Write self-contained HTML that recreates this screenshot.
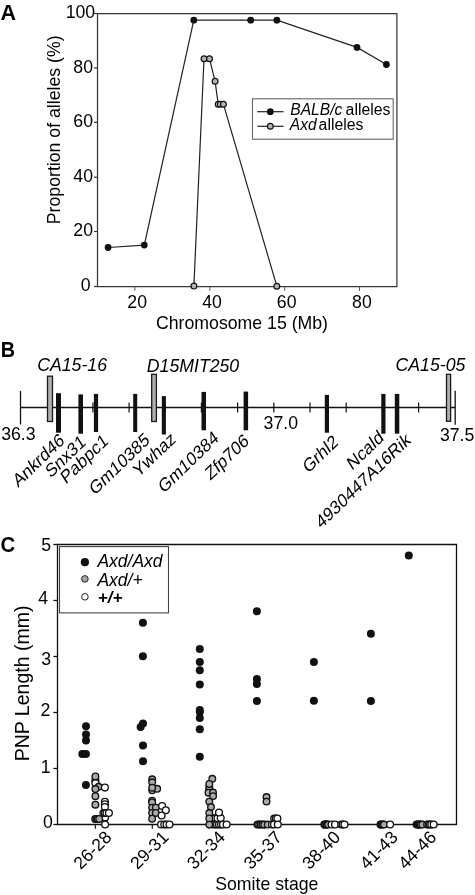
<!DOCTYPE html>
<html><head><meta charset="utf-8"><title>Figure</title>
<style>html,body{margin:0;padding:0;background:#fff;width:475px;height:895px;overflow:hidden}
svg{display:block} text{font-family:"Liberation Sans", Arial, Helvetica, sans-serif}</style></head>
<body><svg width="475" height="895" viewBox="0 0 475 895">
<rect width="475" height="895" fill="#fff"/>
<text x="0" y="0" font-size="21.5" font-weight="bold" transform="translate(0.6 19.9) scale(1.0 1)">A</text>
<path d="M97.5 13.5 H396.9 V286.5 H97.5 Z" fill="none" stroke="#383838" stroke-width="1.25"/>
<line x1="94" y1="13.5" x2="97.5" y2="13.5" stroke="#383838" stroke-width="1.2"/>
<line x1="94" y1="67.9" x2="97.5" y2="67.9" stroke="#383838" stroke-width="1.2"/>
<line x1="94" y1="122.3" x2="97.5" y2="122.3" stroke="#383838" stroke-width="1.2"/>
<line x1="94" y1="177.2" x2="97.5" y2="177.2" stroke="#383838" stroke-width="1.2"/>
<line x1="94" y1="231.5" x2="97.5" y2="231.5" stroke="#383838" stroke-width="1.2"/>
<line x1="94" y1="286.5" x2="97.5" y2="286.5" stroke="#383838" stroke-width="1.2"/>
<text x="95.2" y="18.1" font-size="17.7" text-anchor="end" fill="#000">100</text>
<text x="93" y="72.7" font-size="17.7" text-anchor="end" fill="#000">80</text>
<text x="93" y="127.1" font-size="17.7" text-anchor="end" fill="#000">60</text>
<text x="93" y="181.7" font-size="17.7" text-anchor="end" fill="#000">40</text>
<text x="93" y="235.9" font-size="17.7" text-anchor="end" fill="#000">20</text>
<text x="90.6" y="290.7" font-size="17.7" text-anchor="end" fill="#000">0</text>
<line x1="134.9" y1="286.5" x2="134.9" y2="290.8" stroke="#555" stroke-width="1"/>
<line x1="209.9" y1="286.5" x2="209.9" y2="290.8" stroke="#555" stroke-width="1"/>
<line x1="284.7" y1="286.5" x2="284.7" y2="290.8" stroke="#555" stroke-width="1"/>
<line x1="359.5" y1="286.5" x2="359.5" y2="290.8" stroke="#555" stroke-width="1"/>
<text x="137.2" y="308.4" font-size="17.7" text-anchor="middle" fill="#000">20</text>
<text x="212" y="308.4" font-size="17.7" text-anchor="middle" fill="#000">40</text>
<text x="286.7" y="308.4" font-size="17.7" text-anchor="middle" fill="#000">60</text>
<text x="361.9" y="308.4" font-size="17.7" text-anchor="middle" fill="#000">80</text>
<text x="156" y="328.5" font-size="17.7" fill="#000">Chromosome 15 (Mb)</text>
<text x="60" y="224.2" font-size="17.7" transform="rotate(-90 60 224.2)" fill="#000">Proportion of alleles (%)</text>
<polyline points="108.1,247.5 144.3,245.1 193.8,20.2 250.7,20.2 276.9,20.2 357,47.4 386.4,64.5" fill="none" stroke="#222" stroke-width="1.2"/>
<polyline points="193.9,286.1 204,58.7 209.5,58.7 215.1,81.3 218.2,104.2 220.3,104.2 223.4,104.2 276.8,286.2" fill="none" stroke="#222" stroke-width="1.2"/>
<circle cx="108.1" cy="247.5" r="3.4" fill="#111"/>
<circle cx="144.3" cy="245.1" r="3.4" fill="#111"/>
<circle cx="193.8" cy="20.2" r="3.4" fill="#111"/>
<circle cx="250.7" cy="20.2" r="3.4" fill="#111"/>
<circle cx="276.9" cy="20.2" r="3.4" fill="#111"/>
<circle cx="357" cy="47.4" r="3.4" fill="#111"/>
<circle cx="386.4" cy="64.5" r="3.4" fill="#111"/>
<circle cx="193.9" cy="286.1" r="2.9" fill="#b4b4b4" stroke="#111" stroke-width="1.2"/>
<circle cx="204" cy="58.7" r="2.9" fill="#b4b4b4" stroke="#111" stroke-width="1.2"/>
<circle cx="209.5" cy="58.7" r="2.9" fill="#b4b4b4" stroke="#111" stroke-width="1.2"/>
<circle cx="215.1" cy="81.3" r="2.9" fill="#b4b4b4" stroke="#111" stroke-width="1.2"/>
<circle cx="218.2" cy="104.2" r="2.9" fill="#b4b4b4" stroke="#111" stroke-width="1.2"/>
<circle cx="220.3" cy="104.2" r="2.9" fill="#b4b4b4" stroke="#111" stroke-width="1.2"/>
<circle cx="223.4" cy="104.2" r="2.9" fill="#b4b4b4" stroke="#111" stroke-width="1.2"/>
<circle cx="276.8" cy="286.2" r="2.9" fill="#b4b4b4" stroke="#111" stroke-width="1.2"/>
<rect x="252.5" y="98.8" width="140.7" height="40.39999999999999" fill="none" stroke="#666" stroke-width="1.1"/>
<line x1="257.3" y1="111.7" x2="283.5" y2="111.7" stroke="#222" stroke-width="1.2"/>
<circle cx="270.3" cy="111.7" r="3.4" fill="#111"/>
<line x1="257.3" y1="126.3" x2="283.5" y2="126.3" stroke="#222" stroke-width="1.2"/>
<circle cx="270.3" cy="126.3" r="2.9" fill="#b4b4b4" stroke="#111" stroke-width="1.2"/>
<text x="290.3" y="115.3" font-size="15.6" font-style="italic" fill="#000">BALB/c</text>
<text x="345.6" y="115.3" font-size="15.8" fill="#000">alleles</text>
<text x="289.8" y="129.8" font-size="15.6" font-style="italic" fill="#000">Axd</text>
<text x="318.6" y="129.8" font-size="15.8" fill="#000">alleles</text>
<text x="0" y="0" font-size="21.5" font-weight="bold" transform="translate(0.8 356.5) scale(0.92 1)">B</text>
<line x1="20.5" y1="407.5" x2="455.2" y2="407.5" stroke="#111" stroke-width="1.4"/>
<line x1="20.5" y1="391" x2="20.5" y2="424.5" stroke="#111" stroke-width="1.3"/>
<line x1="455.2" y1="390.8" x2="455.2" y2="424.7" stroke="#111" stroke-width="1.3"/>
<line x1="56.7" y1="402.6" x2="56.7" y2="412.6" stroke="#111" stroke-width="1.2"/>
<line x1="92.9" y1="402.6" x2="92.9" y2="412.6" stroke="#111" stroke-width="1.2"/>
<line x1="129.1" y1="402.6" x2="129.1" y2="412.6" stroke="#111" stroke-width="1.2"/>
<line x1="165.3" y1="402.6" x2="165.3" y2="412.6" stroke="#111" stroke-width="1.2"/>
<line x1="201.4" y1="402.6" x2="201.4" y2="412.6" stroke="#111" stroke-width="1.2"/>
<line x1="237.6" y1="402.6" x2="237.6" y2="412.6" stroke="#111" stroke-width="1.2"/>
<line x1="273.8" y1="402.6" x2="273.8" y2="412.6" stroke="#111" stroke-width="1.2"/>
<line x1="310.0" y1="402.6" x2="310.0" y2="412.6" stroke="#111" stroke-width="1.2"/>
<line x1="346.2" y1="402.6" x2="346.2" y2="412.6" stroke="#111" stroke-width="1.2"/>
<line x1="382.4" y1="402.6" x2="382.4" y2="412.6" stroke="#111" stroke-width="1.2"/>
<line x1="418.6" y1="402.6" x2="418.6" y2="412.6" stroke="#111" stroke-width="1.2"/>
<rect x="47.5" y="376.2" width="5.0" height="45.30000000000001" fill="#b0b0b0" stroke="#1a1a1a" stroke-width="1.3"/>
<rect x="151.7" y="374.3" width="4.700000000000017" height="47.19999999999999" fill="#b0b0b0" stroke="#1a1a1a" stroke-width="1.3"/>
<rect x="446.5" y="374.3" width="4.100000000000023" height="47.0" fill="#b0b0b0" stroke="#1a1a1a" stroke-width="1.3"/>
<rect x="56" y="393.2" width="5" height="39.5" fill="#111"/>
<rect x="78.4" y="394.4" width="4.6" height="39.3" fill="#111"/>
<rect x="93.9" y="393.9" width="4.2" height="38.1" fill="#111"/>
<rect x="133.2" y="393.9" width="4.0" height="38.1" fill="#111"/>
<rect x="161.8" y="396.1" width="4.1" height="38.4" fill="#111"/>
<rect x="201.5" y="391.9" width="4.5" height="38.4" fill="#111"/>
<rect x="243.6" y="391.6" width="4.5" height="38.7" fill="#111"/>
<rect x="324.8" y="394.9" width="4.2" height="37.8" fill="#111"/>
<rect x="381.3" y="393.9" width="4.2" height="39.8" fill="#111"/>
<rect x="394.8" y="393.9" width="4.5" height="39.8" fill="#111"/>
<text x="1.2" y="440" font-size="17.7" fill="#000">36.3</text>
<text x="263.6" y="429.2" font-size="17.7" fill="#000">37.0</text>
<text x="439.9" y="441.4" font-size="17.7" fill="#000">37.5</text>
<text x="37.2" y="370.9" font-size="17.7" font-style="italic" fill="#000">CA15-16</text>
<text x="146.8" y="371.5" font-size="17.7" font-style="italic" fill="#000">D15MIT250</text>
<text x="395.5" y="371.3" font-size="17.7" font-style="italic" fill="#000">CA15-05</text>
<text x="0" y="0" font-size="17.7" text-anchor="end" transform="matrix(0.7193 -0.6947 0.5299 0.8480 65.3 442.3)">Ankrd46</text>
<text x="0" y="0" font-size="17.7" text-anchor="end" transform="matrix(0.7193 -0.6947 0.5299 0.8480 86.5 444)">Snx31</text>
<text x="0" y="0" font-size="17.7" text-anchor="end" transform="matrix(0.7193 -0.6947 0.5299 0.8480 109 443)">Pabpc1</text>
<text x="0" y="0" font-size="17.7" text-anchor="end" transform="matrix(0.7193 -0.6947 0.5299 0.8480 150.5 442)">Gm10385</text>
<text x="0" y="0" font-size="17.7" text-anchor="end" transform="matrix(0.7193 -0.6947 0.5299 0.8480 176.5 441)">Ywhaz</text>
<text x="0" y="0" font-size="17.7" text-anchor="end" transform="matrix(0.7193 -0.6947 0.5299 0.8480 219.5 440)">Gm10384</text>
<text x="0" y="0" font-size="17.7" text-anchor="end" transform="matrix(0.7193 -0.6947 0.5299 0.8480 249.8 442.8)">Zfp706</text>
<text x="0" y="0" font-size="17.7" text-anchor="end" transform="matrix(0.7193 -0.6947 0.5299 0.8480 339 444)">Grhl2</text>
<text x="0" y="0" font-size="17.7" text-anchor="end" transform="matrix(0.7193 -0.6947 0.5299 0.8480 384.5 439.5)">Ncald</text>
<text x="0" y="0" font-size="17.7" text-anchor="end" transform="matrix(0.7193 -0.6947 0.5299 0.8480 411.5 442)">4930447A16Rik</text>
<text x="0" y="0" font-size="21.5" font-weight="bold" transform="translate(0.5 552) scale(0.95 1)">C</text>
<path d="M57.5 544.5 H456.5 V824.5 H57.5 Z" fill="none" stroke="#111" stroke-width="1.3"/>
<line x1="53.4" y1="824.5" x2="57.5" y2="824.5" stroke="#111" stroke-width="1.3"/>
<line x1="53.4" y1="768.5" x2="57.5" y2="768.5" stroke="#111" stroke-width="1.3"/>
<line x1="53.4" y1="712.5" x2="57.5" y2="712.5" stroke="#111" stroke-width="1.3"/>
<line x1="53.4" y1="656.5" x2="57.5" y2="656.5" stroke="#111" stroke-width="1.3"/>
<line x1="53.4" y1="600.5" x2="57.5" y2="600.5" stroke="#111" stroke-width="1.3"/>
<line x1="53.4" y1="544.5" x2="57.5" y2="544.5" stroke="#111" stroke-width="1.3"/>
<text x="51" y="551" font-size="17.7" text-anchor="end" fill="#000">5</text>
<text x="48.1" y="603.8" font-size="17.7" text-anchor="end" fill="#000">4</text>
<text x="51" y="664.8" font-size="17.7" text-anchor="end" fill="#000">3</text>
<text x="50.3" y="715.7" font-size="17.7" text-anchor="end" fill="#000">2</text>
<text x="50.5" y="772.6" font-size="17.7" text-anchor="end" fill="#000">1</text>
<text x="52.9" y="828.4" font-size="17.7" text-anchor="end" fill="#000">0</text>
<text x="29" y="761.3" font-size="19.5" transform="rotate(-90 29 761.3)" fill="#000">PNP Length (mm)</text>
<line x1="95.4" y1="824.5" x2="95.4" y2="828.7" stroke="#1a1a1a" stroke-width="1.2"/>
<line x1="152.3" y1="824.5" x2="152.3" y2="828.7" stroke="#1a1a1a" stroke-width="1.2"/>
<line x1="208.9" y1="824.5" x2="208.9" y2="828.7" stroke="#1a1a1a" stroke-width="1.2"/>
<line x1="264.4" y1="824.5" x2="264.4" y2="828.7" stroke="#1a1a1a" stroke-width="1.2"/>
<line x1="323.4" y1="824.5" x2="323.4" y2="828.7" stroke="#1a1a1a" stroke-width="1.2"/>
<line x1="380" y1="824.5" x2="380" y2="828.7" stroke="#1a1a1a" stroke-width="1.2"/>
<line x1="418.4" y1="824.5" x2="418.4" y2="828.7" stroke="#1a1a1a" stroke-width="1.2"/>
<text x="112.7" y="838.3" font-size="17.7" text-anchor="end" transform="rotate(-45 112.7 838.3)" fill="#000">26-28</text>
<text x="169.6" y="838.3" font-size="17.7" text-anchor="end" transform="rotate(-45 169.6 838.3)" fill="#000">29-31</text>
<text x="226.2" y="838.3" font-size="17.7" text-anchor="end" transform="rotate(-45 226.2 838.3)" fill="#000">32-34</text>
<text x="282.9" y="838.3" font-size="17.7" text-anchor="end" transform="rotate(-45 282.9 838.3)" fill="#000">35-37</text>
<text x="341.4" y="838.3" font-size="17.7" text-anchor="end" transform="rotate(-45 341.4 838.3)" fill="#000">38-40</text>
<text x="399" y="838.3" font-size="17.7" text-anchor="end" transform="rotate(-45 399 838.3)" fill="#000">41-43</text>
<text x="437.4" y="838.3" font-size="17.7" text-anchor="end" transform="rotate(-45 437.4 838.3)" fill="#000">44-46</text>
<text x="215.2" y="889.8" font-size="17.7" fill="#000">Somite stage</text>
<rect x="59.5" y="546.6" width="109.0" height="66.29999999999995" fill="#fff" stroke="#444" stroke-width="1.1"/>
<circle cx="84.9" cy="562.2" r="4.1" fill="#111"/>
<circle cx="84.9" cy="578.9" r="3.3" fill="#a8a8a8" stroke="#222" stroke-width="1"/>
<circle cx="84.9" cy="596.8" r="3.3" fill="#fff" stroke="#222" stroke-width="1"/>
<text x="97.4" y="566.8" font-size="17.5" font-style="italic" fill="#000">Axd/Axd</text>
<text x="97.4" y="586.1" font-size="17.5" font-style="italic" fill="#000">Axd/+</text>
<text x="97.8" y="603.0" font-size="17" font-style="italic" font-weight="bold" fill="#000">+/+</text>
<circle cx="86" cy="726.3" r="4.0" fill="#111"/>
<circle cx="86" cy="734.5" r="4.0" fill="#111"/>
<circle cx="86" cy="740.5" r="4.0" fill="#111"/>
<circle cx="82.3" cy="754.1" r="4.0" fill="#111"/>
<circle cx="85.9" cy="754.1" r="4.0" fill="#111"/>
<circle cx="85.9" cy="785" r="4.0" fill="#111"/>
<circle cx="95.4" cy="780.6" r="3.4" fill="#fff" stroke="#111" stroke-width="1.35"/>
<circle cx="95.4" cy="783.1" r="3.4" fill="#fff" stroke="#111" stroke-width="1.35"/>
<circle cx="98.6" cy="786.8" r="3.3" fill="#aaaaaa" stroke="#111" stroke-width="1.35"/>
<circle cx="95.4" cy="776.4" r="3.3" fill="#aaaaaa" stroke="#111" stroke-width="1.35"/>
<circle cx="95.4" cy="789" r="3.3" fill="#aaaaaa" stroke="#111" stroke-width="1.35"/>
<circle cx="95.4" cy="796.2" r="3.3" fill="#aaaaaa" stroke="#111" stroke-width="1.35"/>
<circle cx="95.4" cy="804.7" r="3.3" fill="#aaaaaa" stroke="#111" stroke-width="1.35"/>
<circle cx="104.9" cy="787.6" r="3.4" fill="#fff" stroke="#111" stroke-width="1.35"/>
<circle cx="104.9" cy="801.8" r="3.4" fill="#fff" stroke="#111" stroke-width="1.35"/>
<circle cx="104.9" cy="804.2" r="3.4" fill="#fff" stroke="#111" stroke-width="1.35"/>
<circle cx="104.9" cy="807.1" r="3.4" fill="#fff" stroke="#111" stroke-width="1.35"/>
<circle cx="105.1" cy="817.4" r="3.4" fill="#fff" stroke="#111" stroke-width="1.35"/>
<circle cx="103.5" cy="813" r="3.4" fill="#fff" stroke="#111" stroke-width="1.35"/>
<circle cx="105" cy="813" r="3.4" fill="#fff" stroke="#111" stroke-width="1.35"/>
<circle cx="106.5" cy="813" r="3.4" fill="#fff" stroke="#111" stroke-width="1.35"/>
<circle cx="108.9" cy="813" r="3.4" fill="#fff" stroke="#111" stroke-width="1.35"/>
<circle cx="95.2" cy="818.9" r="3.3" fill="#aaaaaa" stroke="#111" stroke-width="1.35"/>
<circle cx="96.4" cy="818.9" r="3.3" fill="#aaaaaa" stroke="#111" stroke-width="1.35"/>
<circle cx="97.6" cy="818.9" r="3.3" fill="#aaaaaa" stroke="#111" stroke-width="1.35"/>
<circle cx="99.2" cy="818.9" r="3.3" fill="#aaaaaa" stroke="#111" stroke-width="1.35"/>
<circle cx="105.1" cy="824.5" r="3.4" fill="#fff" stroke="#111" stroke-width="1.35"/>
<circle cx="142.9" cy="622.7" r="4.0" fill="#111"/>
<circle cx="142.9" cy="656.2" r="4.0" fill="#111"/>
<circle cx="143" cy="723.5" r="4.0" fill="#111"/>
<circle cx="140.6" cy="727" r="4.0" fill="#111"/>
<circle cx="143" cy="745.6" r="4.0" fill="#111"/>
<circle cx="143" cy="761.2" r="4.0" fill="#111"/>
<circle cx="152.2" cy="779.3" r="3.3" fill="#aaaaaa" stroke="#111" stroke-width="1.35"/>
<circle cx="152.2" cy="782.3" r="3.3" fill="#aaaaaa" stroke="#111" stroke-width="1.35"/>
<circle cx="152.2" cy="790.3" r="3.3" fill="#aaaaaa" stroke="#111" stroke-width="1.35"/>
<circle cx="157.2" cy="788.8" r="3.3" fill="#aaaaaa" stroke="#111" stroke-width="1.35"/>
<circle cx="152.2" cy="787.7" r="3.3" fill="#aaaaaa" stroke="#111" stroke-width="1.35"/>
<circle cx="152.1" cy="800.6" r="3.3" fill="#aaaaaa" stroke="#111" stroke-width="1.35"/>
<circle cx="152.1" cy="802.4" r="3.3" fill="#aaaaaa" stroke="#111" stroke-width="1.35"/>
<circle cx="152.1" cy="807.6" r="3.3" fill="#aaaaaa" stroke="#111" stroke-width="1.35"/>
<circle cx="155.8" cy="807.6" r="3.3" fill="#aaaaaa" stroke="#111" stroke-width="1.35"/>
<circle cx="152.1" cy="812.9" r="3.3" fill="#aaaaaa" stroke="#111" stroke-width="1.35"/>
<circle cx="155.8" cy="812.9" r="3.3" fill="#aaaaaa" stroke="#111" stroke-width="1.35"/>
<circle cx="152.1" cy="818.7" r="3.3" fill="#aaaaaa" stroke="#111" stroke-width="1.35"/>
<circle cx="162.1" cy="806" r="3.4" fill="#fff" stroke="#111" stroke-width="1.35"/>
<circle cx="165.8" cy="810.3" r="3.4" fill="#fff" stroke="#111" stroke-width="1.35"/>
<circle cx="161.6" cy="815.5" r="3.4" fill="#fff" stroke="#111" stroke-width="1.35"/>
<circle cx="161.1" cy="824.5" r="3.4" fill="#fff" stroke="#111" stroke-width="1.35"/>
<circle cx="164.3" cy="824.5" r="3.4" fill="#fff" stroke="#111" stroke-width="1.35"/>
<circle cx="166.6" cy="824.5" r="3.4" fill="#fff" stroke="#111" stroke-width="1.35"/>
<circle cx="169.5" cy="824.5" r="3.4" fill="#fff" stroke="#111" stroke-width="1.35"/>
<circle cx="199.8" cy="649" r="4.0" fill="#111"/>
<circle cx="199.8" cy="662" r="4.0" fill="#111"/>
<circle cx="199.8" cy="670.2" r="4.0" fill="#111"/>
<circle cx="199.8" cy="684.4" r="4.0" fill="#111"/>
<circle cx="199.8" cy="710" r="4.0" fill="#111"/>
<circle cx="199.8" cy="712" r="4.0" fill="#111"/>
<circle cx="199.8" cy="718" r="4.0" fill="#111"/>
<circle cx="199.8" cy="729.3" r="4.0" fill="#111"/>
<circle cx="199.8" cy="756.8" r="4.0" fill="#111"/>
<circle cx="213" cy="824.5" r="3.4" fill="#fff" stroke="#111" stroke-width="1.35"/>
<circle cx="215" cy="824.5" r="3.4" fill="#fff" stroke="#111" stroke-width="1.35"/>
<circle cx="217" cy="824.5" r="3.4" fill="#fff" stroke="#111" stroke-width="1.35"/>
<circle cx="219" cy="824.5" r="3.4" fill="#fff" stroke="#111" stroke-width="1.35"/>
<circle cx="221" cy="824.5" r="3.4" fill="#fff" stroke="#111" stroke-width="1.35"/>
<circle cx="223" cy="824.5" r="3.4" fill="#fff" stroke="#111" stroke-width="1.35"/>
<circle cx="226.6" cy="824.5" r="3.4" fill="#fff" stroke="#111" stroke-width="1.35"/>
<circle cx="213.5" cy="818.3" r="3.4" fill="#fff" stroke="#111" stroke-width="1.35"/>
<circle cx="215.5" cy="818.3" r="3.4" fill="#fff" stroke="#111" stroke-width="1.35"/>
<circle cx="217.5" cy="818.3" r="3.4" fill="#fff" stroke="#111" stroke-width="1.35"/>
<circle cx="220.7" cy="818" r="3.4" fill="#fff" stroke="#111" stroke-width="1.35"/>
<circle cx="219" cy="812.5" r="3.4" fill="#fff" stroke="#111" stroke-width="1.35"/>
<circle cx="209.3" cy="789.5" r="3.3" fill="#aaaaaa" stroke="#111" stroke-width="1.35"/>
<circle cx="209.3" cy="787" r="3.3" fill="#aaaaaa" stroke="#111" stroke-width="1.35"/>
<circle cx="212.3" cy="778.8" r="3.3" fill="#aaaaaa" stroke="#111" stroke-width="1.35"/>
<circle cx="209.3" cy="783.9" r="3.3" fill="#aaaaaa" stroke="#111" stroke-width="1.35"/>
<circle cx="208.5" cy="792.7" r="3.3" fill="#aaaaaa" stroke="#111" stroke-width="1.35"/>
<circle cx="213" cy="792.5" r="3.3" fill="#aaaaaa" stroke="#111" stroke-width="1.35"/>
<circle cx="213.1" cy="796.1" r="3.3" fill="#aaaaaa" stroke="#111" stroke-width="1.35"/>
<circle cx="209.3" cy="801.6" r="3.3" fill="#aaaaaa" stroke="#111" stroke-width="1.35"/>
<circle cx="211" cy="807" r="3.3" fill="#aaaaaa" stroke="#111" stroke-width="1.35"/>
<circle cx="209.3" cy="813" r="3.3" fill="#aaaaaa" stroke="#111" stroke-width="1.35"/>
<circle cx="209.3" cy="818.4" r="3.3" fill="#aaaaaa" stroke="#111" stroke-width="1.35"/>
<circle cx="209.3" cy="824.6" r="3.3" fill="#aaaaaa" stroke="#111" stroke-width="1.35"/>
<circle cx="256.9" cy="611.3" r="4.0" fill="#111"/>
<circle cx="256.9" cy="679" r="4.0" fill="#111"/>
<circle cx="256.9" cy="684" r="4.0" fill="#111"/>
<circle cx="256.9" cy="701" r="4.0" fill="#111"/>
<circle cx="266.5" cy="797" r="3.3" fill="#aaaaaa" stroke="#111" stroke-width="1.35"/>
<circle cx="266.5" cy="801.6" r="3.3" fill="#aaaaaa" stroke="#111" stroke-width="1.35"/>
<circle cx="274.2" cy="818.5" r="3.4" fill="#fff" stroke="#111" stroke-width="1.35"/>
<circle cx="275.8" cy="818.5" r="3.4" fill="#fff" stroke="#111" stroke-width="1.35"/>
<circle cx="277.4" cy="818.5" r="3.4" fill="#fff" stroke="#111" stroke-width="1.35"/>
<circle cx="257.4" cy="824.5" r="3.3" fill="#aaaaaa" stroke="#111" stroke-width="1.35"/>
<circle cx="259.1" cy="824.5" r="3.3" fill="#aaaaaa" stroke="#111" stroke-width="1.35"/>
<circle cx="260.8" cy="824.5" r="3.3" fill="#aaaaaa" stroke="#111" stroke-width="1.35"/>
<circle cx="262.5" cy="824.5" r="3.3" fill="#aaaaaa" stroke="#111" stroke-width="1.35"/>
<circle cx="264.2" cy="824.5" r="3.3" fill="#aaaaaa" stroke="#111" stroke-width="1.35"/>
<circle cx="267.7" cy="824.5" r="3.3" fill="#aaaaaa" stroke="#111" stroke-width="1.35"/>
<circle cx="272" cy="824.5" r="3.4" fill="#fff" stroke="#111" stroke-width="1.35"/>
<circle cx="274" cy="824.5" r="3.4" fill="#fff" stroke="#111" stroke-width="1.35"/>
<circle cx="277.8" cy="824.5" r="3.4" fill="#fff" stroke="#111" stroke-width="1.35"/>
<circle cx="313.9" cy="661.9" r="4.0" fill="#111"/>
<circle cx="313.9" cy="700.8" r="4.0" fill="#111"/>
<circle cx="324.3" cy="824.5" r="3.3" fill="#aaaaaa" stroke="#111" stroke-width="1.35"/>
<circle cx="325.2" cy="824.5" r="3.3" fill="#aaaaaa" stroke="#111" stroke-width="1.35"/>
<circle cx="326.1" cy="824.5" r="3.3" fill="#aaaaaa" stroke="#111" stroke-width="1.35"/>
<circle cx="327" cy="824.5" r="3.3" fill="#aaaaaa" stroke="#111" stroke-width="1.35"/>
<circle cx="328.2" cy="824.5" r="3.3" fill="#aaaaaa" stroke="#111" stroke-width="1.35"/>
<circle cx="331.6" cy="824.5" r="3.4" fill="#fff" stroke="#111" stroke-width="1.35"/>
<circle cx="335" cy="824.5" r="3.4" fill="#fff" stroke="#111" stroke-width="1.35"/>
<circle cx="341.3" cy="824.5" r="3.4" fill="#fff" stroke="#111" stroke-width="1.35"/>
<circle cx="342.8" cy="824.5" r="3.4" fill="#fff" stroke="#111" stroke-width="1.35"/>
<circle cx="344.5" cy="824.5" r="3.4" fill="#fff" stroke="#111" stroke-width="1.35"/>
<circle cx="370.9" cy="633.8" r="4.0" fill="#111"/>
<circle cx="370.9" cy="701" r="4.0" fill="#111"/>
<circle cx="380.5" cy="824.5" r="3.3" fill="#aaaaaa" stroke="#111" stroke-width="1.35"/>
<circle cx="381.5" cy="824.5" r="3.3" fill="#aaaaaa" stroke="#111" stroke-width="1.35"/>
<circle cx="382.5" cy="824.5" r="3.3" fill="#aaaaaa" stroke="#111" stroke-width="1.35"/>
<circle cx="384" cy="824.5" r="3.3" fill="#aaaaaa" stroke="#111" stroke-width="1.35"/>
<circle cx="390.1" cy="824.5" r="3.4" fill="#fff" stroke="#111" stroke-width="1.35"/>
<circle cx="408.8" cy="555.5" r="4.0" fill="#111"/>
<circle cx="416.6" cy="824.5" r="3.3" fill="#aaaaaa" stroke="#111" stroke-width="1.35"/>
<circle cx="417.6" cy="824.5" r="3.3" fill="#aaaaaa" stroke="#111" stroke-width="1.35"/>
<circle cx="418.6" cy="824.5" r="3.3" fill="#aaaaaa" stroke="#111" stroke-width="1.35"/>
<circle cx="419.6" cy="824.5" r="3.3" fill="#aaaaaa" stroke="#111" stroke-width="1.35"/>
<circle cx="420.6" cy="824.5" r="3.3" fill="#aaaaaa" stroke="#111" stroke-width="1.35"/>
<circle cx="422.3" cy="824.5" r="3.3" fill="#aaaaaa" stroke="#111" stroke-width="1.35"/>
<circle cx="427.2" cy="824.5" r="3.4" fill="#fff" stroke="#111" stroke-width="1.35"/>
<circle cx="428.6" cy="824.5" r="3.4" fill="#fff" stroke="#111" stroke-width="1.35"/>
<circle cx="430" cy="824.5" r="3.4" fill="#fff" stroke="#111" stroke-width="1.35"/>
<circle cx="431.3" cy="824.5" r="3.4" fill="#fff" stroke="#111" stroke-width="1.35"/>
<circle cx="433.7" cy="824.5" r="3.4" fill="#fff" stroke="#111" stroke-width="1.35"/>
</svg></body></html>
